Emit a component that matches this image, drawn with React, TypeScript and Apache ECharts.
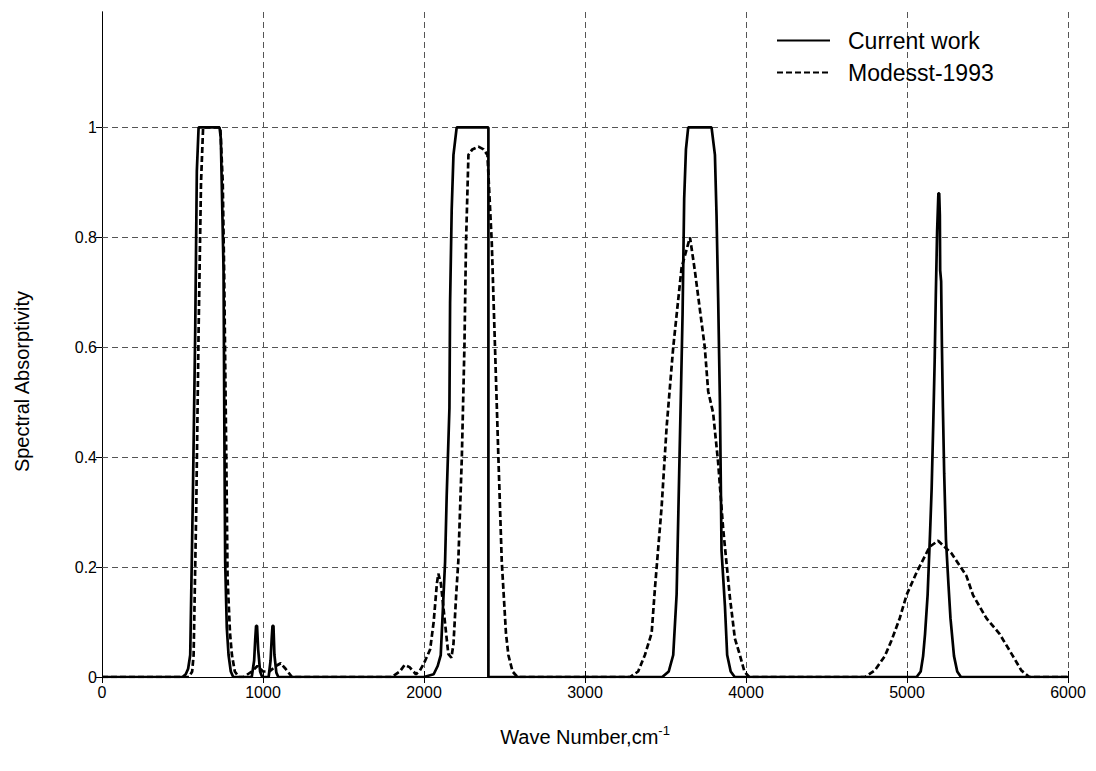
import React, { useEffect, useRef } from "react";
import * as echarts from "echarts";

const xTicks = [0, 1000, 2000, 3000, 4000, 5000, 6000];
const yTicks = [0, 0.2, 0.4, 0.6, 0.8, 1];
const yMax = 1.21;
const seriesNames = ["Current work", "Modesst-1993"];

const currentWork: [number, number][] = [
  [0, 0], [500, 0], [520, 0.005], [535, 0.015], [548, 0.04], [555, 0.165], [565, 0.34], [579, 0.63], [589, 0.92], [600, 1],
  [730, 1], [738, 0.98], [755, 0.74], [761, 0.4], [765, 0.21], [775, 0.09], [786, 0.04], [800, 0.01], [815, 0],
  [930, 0], [945, 0.03], [952, 0.07], [957, 0.093], [963, 0.093], [970, 0.05], [982, 0.01], [995, 0],
  [1035, 0], [1047, 0.03], [1054, 0.07], [1059, 0.093], [1065, 0.093], [1071, 0.04], [1083, 0.008], [1095, 0],
  [2000, 0], [2060, 0.005], [2085, 0.02], [2104, 0.04], [2131, 0.21], [2141, 0.33], [2158, 0.49], [2162, 0.68],
  [2172, 0.85], [2183, 0.95], [2203, 1], [2400, 1], [2400, 0],
  [3480, 0], [3520, 0.01], [3548, 0.04], [3569, 0.15], [3585, 0.37], [3596, 0.52], [3606, 0.66], [3616, 0.87],
  [3627, 0.96], [3641, 1], [3786, 1], [3807, 0.95], [3817, 0.84], [3827, 0.69], [3838, 0.5], [3848, 0.23],
  [3869, 0.13], [3883, 0.04], [3905, 0.01], [3930, 0],
  [5060, 0], [5085, 0.01], [5100, 0.038], [5112, 0.078], [5128, 0.149], [5143, 0.26], [5153, 0.342], [5163, 0.46],
  [5172, 0.577], [5179, 0.695], [5187, 0.81], [5195, 0.88], [5200, 0.88], [5204, 0.84], [5206, 0.74], [5212, 0.72],
  [5217, 0.6], [5223, 0.49], [5231, 0.37], [5242, 0.25], [5258, 0.166], [5270, 0.107], [5292, 0.038],
  [5312, 0.01], [5335, 0], [6000, 0],
];

const modesst1993: [number, number][] = [
  [0, 0], [540, 0], [560, 0.01], [569, 0.04], [585, 0.3], [600, 0.63], [615, 0.9], [628, 1], [735, 1], [750, 0.9],
  [759, 0.73], [772, 0.4], [780, 0.18], [795, 0.08], [807, 0.04], [825, 0.01], [850, 0],
  [880, 0], [930, 0.01], [965, 0.02], [1000, 0.01], [1040, 0.01], [1080, 0.02], [1110, 0.025], [1140, 0.015], [1180, 0],
  [1800, 0], [1850, 0.01], [1880, 0.022], [1910, 0.018], [1950, 0.005], [1975, 0.012], [2000, 0.025], [2038, 0.05],
  [2060, 0.1], [2080, 0.17], [2089, 0.188], [2105, 0.17], [2130, 0.1], [2151, 0.042], [2170, 0.035], [2183, 0.06],
  [2200, 0.15], [2213, 0.21], [2235, 0.4], [2251, 0.6], [2261, 0.79], [2276, 0.95], [2300, 0.96], [2338, 0.965],
  [2370, 0.96], [2394, 0.95], [2421, 0.79], [2441, 0.6], [2462, 0.4], [2483, 0.21], [2509, 0.08], [2524, 0.04],
  [2550, 0.01], [2580, 0],
  [3280, 0], [3330, 0.01], [3372, 0.04], [3414, 0.08], [3434, 0.16], [3476, 0.31], [3507, 0.455], [3548, 0.6],
  [3600, 0.745], [3652, 0.8], [3682, 0.74], [3744, 0.6], [3765, 0.52], [3796, 0.48], [3827, 0.39], [3858, 0.27],
  [3900, 0.145], [3931, 0.07], [3962, 0.04], [3990, 0.01], [4020, 0],
  [4740, 0], [4800, 0.012], [4862, 0.038], [4903, 0.066], [4955, 0.107], [4997, 0.149], [5059, 0.19], [5141, 0.237],
  [5193, 0.248], [5276, 0.225], [5369, 0.184], [5410, 0.149], [5493, 0.107], [5576, 0.078], [5658, 0.038],
  [5710, 0.012], [5760, 0], [6000, 0],
];

const FONT = "Liberation Sans, Arial, sans-serif";
const GRID_STYLE = { color: "#555", width: 1, type: [6, 4] as number[] };

export default function App() {
  const ref = useRef<HTMLDivElement>(null);
  useEffect(() => {
    if (!ref.current) return;
    const chart = echarts.init(ref.current, null, { renderer: "svg" });
    const lastY = yTicks[yTicks.length - 1];
    chart.setOption({
      animation: false,
      backgroundColor: "#fff",
      grid: { left: 102, right: 28, top: 12, bottom: 94 },
      legend: {
        orient: "vertical",
        left: 771,
        top: 24,
        itemWidth: 53,
        itemHeight: 1,
        itemGap: 9,
        data: seriesNames,
        textStyle: { fontFamily: FONT, fontSize: 23, color: "#000", lineHeight: 23, padding: [0, 0, 0, 13] },
      },
      xAxis: [
        {
          type: "value",
          min: xTicks[0],
          max: xTicks[xTicks.length - 1],
          interval: 1000,
          name: "Wave Number,cm{sup|-1}",
          nameLocation: "middle",
          nameGap: 47,
          nameTextStyle: {
            fontFamily: FONT,
            fontSize: 20,
            color: "#000",
            rich: { sup: { fontFamily: FONT, fontSize: 13, color: "#000", verticalAlign: "top", padding: [0, 0, 12, 0] } },
          },
          axisLine: { lineStyle: { color: "#000", width: 1 } },
          axisTick: { inside: true, length: 6, lineStyle: { color: "#000" } },
          axisLabel: { fontFamily: FONT, fontSize: 16, color: "#000", margin: 7, formatter: (v: number) => String(v) },
          splitLine: { show: true, lineStyle: GRID_STYLE },
        },
        {
          type: "value",
          position: "top",
          min: xTicks[0],
          max: xTicks[xTicks.length - 1],
          interval: 1000,
          axisLine: { show: true, lineStyle: { color: "#000", width: 1 } },
          axisTick: { show: true, inside: true, length: 6, lineStyle: { color: "#000" } },
          axisLabel: { show: false },
          splitLine: { show: false },
        },
      ],
      yAxis: [
        {
          type: "value",
          min: 0,
          max: yMax,
          interval: 0.2,
          name: "Spectral Absorptivity",
          nameLocation: "middle",
          nameGap: 70,
          nameTextStyle: { fontFamily: FONT, fontSize: 20, color: "#000", padding: [0, 74, 0, 0] },
          axisLine: { show: true, lineStyle: { color: "#000", width: 1 } },
          axisTick: { show: true, inside: true, length: 6, customValues: yTicks, lineStyle: { color: "#000" } },
          axisLabel: {
            fontFamily: FONT,
            fontSize: 16,
            color: "#000",
            margin: 5,
            customValues: yTicks,
            formatter: (v: number) => (v > lastY + 0.01 ? "" : String(+v.toFixed(1))),
          },
          splitLine: { show: false },
        },
        {
          type: "value",
          position: "right",
          min: 0,
          max: yMax,
          interval: 0.2,
          axisLine: { show: true, lineStyle: { color: "#000", width: 1 } },
          axisTick: { show: true, inside: true, length: 6, customValues: yTicks, lineStyle: { color: "#000" } },
          axisLabel: { show: false },
          splitLine: { show: false },
        },
      ],
      series: [
        {
          name: seriesNames[0],
          type: "line",
          data: currentWork,
          symbol: "none",
          z: 3,
          lineStyle: { color: "#000", width: 2.7, type: "solid" },
          itemStyle: { color: "#000" },
          markLine: {
            silent: true,
            z: 1,
            symbol: ["none", "none"],
            label: { show: false },
            lineStyle: GRID_STYLE,
            data: yTicks.filter((v) => v > 0).map((v) => ({ yAxis: v })),
          },
        },
        {
          name: seriesNames[1],
          type: "line",
          data: modesst1993,
          symbol: "none",
          z: 3,
          lineStyle: { color: "#000", width: 2.7, type: [6, 3] },
          itemStyle: { color: "#000" },
        },
      ],
    });
    return () => chart.dispose();
  }, []);
  return <div ref={ref} style={{ width: 1096, height: 771, position: "absolute", left: 0, top: 0 }} />;
}
